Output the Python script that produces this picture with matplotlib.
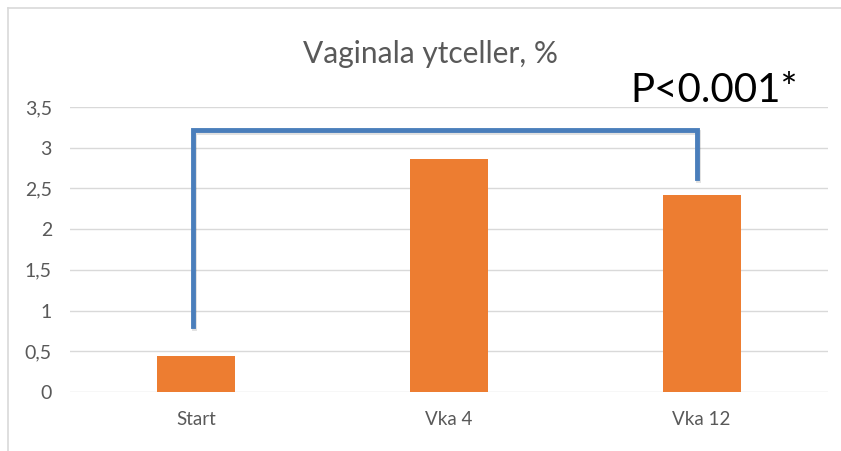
import matplotlib
matplotlib.use('Agg')
import matplotlib.pyplot as plt
import matplotlib.patheffects as pe
from matplotlib.lines import Line2D

# Data
categories = ['Start', 'Vka 4', 'Vka 12']
values = [0.44, 2.86, 2.42]
y_ticks = [0, 0.5, 1, 1.5, 2, 2.5, 3, 3.5]
y_tick_labels = ['0', '0,5', '1', '1,5', '2', '2,5', '3', '3,5']

# significance bracket (Start -> Vka 12)
bracket_x = [-0.015, -0.015, 1.98, 1.98]
bracket_y = [0.81, 3.22, 3.22, 2.63]
p_text = 'P<0.001*'

plt.rcParams['font.family'] = ['Lato', 'DejaVu Sans']

W, H = 841, 451
fig = plt.figure(figsize=(W / 100, H / 100), dpi=100)
ax = fig.add_axes([70 / W, 59 / H, 758 / W, 285 / H])

x = list(range(len(categories)))
ax.bar(x, values, width=0.31, color='#ed7d31', zorder=2)

ax.set_xlim(-0.5, 2.5)
ax.set_ylim(0, 3.5)
ax.set_yticks(y_ticks)
ax.set_yticklabels(y_tick_labels)
ax.set_xticks(x)
ax.set_xticklabels(categories)
ax.tick_params(axis='y', length=0, pad=13, labelsize=14, labelcolor='#595959')
ax.tick_params(axis='x', length=0, pad=14, labelsize=13.5, labelcolor='#595959')
ax.grid(axis='y', color='#d9d9d9', linewidth=1, zorder=0)
ax.set_axisbelow(True)
for s in ax.spines.values():
    s.set_visible(False)

# bracket with a faint shadow
ax.plot(bracket_x, bracket_y, color='#4a7ebb', linewidth=3.5, zorder=3,
        solid_joinstyle='miter', clip_on=False,
        path_effects=[pe.SimpleLineShadow(offset=(1, -1.5), alpha=0.12), pe.Normal()])

ax.text(2.05, 3.70, p_text, fontsize=29, color='black', ha='center', va='center',
        clip_on=False)

fig.text(430 / W, 1 - 54 / H, 'Vaginala ytceller, %', fontsize=21.5, color='#595959',
         ha='center', va='center')

# chart frame (only left and top edges are visible in the crop)
fig.add_artist(Line2D([8 / W, 8 / W], [0, 1 - 8 / H], color='#d9d9d9', linewidth=1.2))
fig.add_artist(Line2D([8 / W, 1], [1 - 8 / H, 1 - 8 / H], color='#d9d9d9', linewidth=1.2))

fig.savefig('out.png', dpi=100, facecolor='white')
